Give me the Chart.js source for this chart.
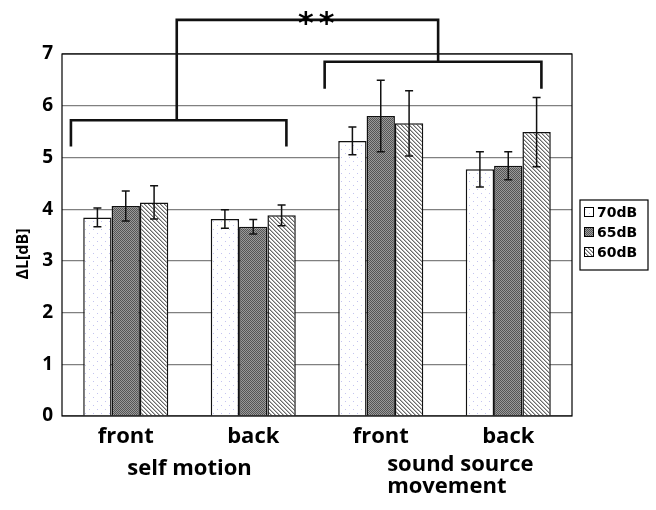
<!DOCTYPE html>
<html lang="en">
<head>
  <meta charset="UTF-8" />
  <title>Delta L by movement type</title>
  <script src="https://cdn.jsdelivr.net/npm/chart.js"></script>
  <style>
    html, body { margin: 0; padding: 0; background: #fff; }
    #wrap { width: 656px; height: 510px; }
  </style>
</head>
<body>
  <div id="wrap"><canvas id="chart" width="656" height="510"></canvas></div>

  <script>
    // data
    const categories = ['front', 'back', 'front', 'back'];
    const groupLabels = ['self motion', ['sound source', 'movement']];
    const seriesNames = ['70dB', '65dB', '60dB'];
    const values70 = [3.84, 3.81, 5.32, 4.77];
    const values65 = [4.06, 3.66, 5.80, 4.84];
    const values60 = [4.13, 3.88, 5.66, 5.49];
    const err70 = [0.18, 0.18, 0.27, 0.34];
    const err65 = [0.29, 0.14, 0.69, 0.27];
    const err60 = [0.32, 0.20, 0.63, 0.67];
    const yTicks = [0, 1, 2, 3, 4, 5, 6, 7];
    const significance = '**';

    const FONT = '"Open Sans", Lato, sans-serif';

    // fill patterns
    function makePattern(size, draw) {
      const c = document.createElement('canvas');
      c.width = size; c.height = size;
      const g = c.getContext('2d');
      draw(g);
      return g.createPattern(c, 'repeat');
    }
    const ctx0 = document.getElementById('chart').getContext('2d');
    const dots = makePattern(8, g => {
      g.fillStyle = '#fff'; g.fillRect(0, 0, 8, 8);
      g.fillStyle = '#c4c4f0';
      g.fillRect(1, 1, 1, 1);
      g.fillRect(5, 5, 1, 1);
    });
    const checker = makePattern(4, g => {
      g.fillStyle = '#9a9a9a'; g.fillRect(0, 0, 4, 4);
      g.fillStyle = '#555';
      g.fillRect(0, 0, 1, 1); g.fillRect(2, 0, 1, 1);
      g.fillRect(1, 1, 1, 1); g.fillRect(3, 1, 1, 1);
      g.fillRect(0, 2, 1, 1); g.fillRect(2, 2, 1, 1);
      g.fillRect(1, 3, 1, 1); g.fillRect(3, 3, 1, 1);
    });
    const stripes = makePattern(4, g => {
      g.fillStyle = '#fff'; g.fillRect(0, 0, 4, 4);
      g.fillStyle = '#6a6a6a';
      for (let i = 0; i < 4; i++) g.fillRect(i, i, 1, 1);
      g.fillStyle = '#b8b8b8';
      for (let i = 0; i < 4; i++) g.fillRect((i + 1) % 4, i, 1, 1);
    });
    const fills = [dots, checker, stripes];
    const errs = [err70, err65, err60];

    const errorBars = {
      id: 'errorBars',
      afterDatasetsDraw(chart) {
        const { ctx, scales: { y } } = chart;
        ctx.save();
        ctx.strokeStyle = '#111';
        ctx.lineWidth = 1.5;
        chart.data.datasets.forEach((ds, di) => {
          chart.getDatasetMeta(di).data.forEach((bar, i) => {
            const v = ds.data[i], e = errs[di][i];
            const top = y.getPixelForValue(v + e), bot = y.getPixelForValue(v - e);
            ctx.beginPath();
            ctx.moveTo(bar.x, top); ctx.lineTo(bar.x, bot);
            ctx.moveTo(bar.x - 4, top); ctx.lineTo(bar.x + 4, top);
            ctx.moveTo(bar.x - 4, bot); ctx.lineTo(bar.x + 4, bot);
            ctx.stroke();
          });
        });
        ctx.restore();
      }
    };

    const frame = {
      id: 'frame',
      afterDraw(chart) {
        const { ctx, chartArea: a, scales: { x, y } } = chart;
        ctx.save();
        // plot border
        ctx.strokeStyle = '#000';
        ctx.lineWidth = 1.2;
        ctx.strokeRect(a.left, a.top, a.right - a.left, a.bottom - a.top);

        // significance brackets, in data units
        const px = v => x.getPixelForValue(v);
        const py = v => y.getPixelForValue(v);
        ctx.strokeStyle = '#111';
        ctx.lineWidth = 2.6;
        ctx.lineJoin = 'miter';
        const br = [
          { x0: -0.43, x1: 1.26, top: 5.72, low: 5.21 },
          { x0: 1.56, x1: 3.26, top: 6.85, low: 6.33 }
        ];
        br.forEach(b => {
          ctx.beginPath();
          ctx.moveTo(px(b.x0), py(b.low));
          ctx.lineTo(px(b.x0), py(b.top));
          ctx.lineTo(px(b.x1), py(b.top));
          ctx.lineTo(px(b.x1), py(b.low));
          ctx.stroke();
        });
        ctx.beginPath();
        ctx.moveTo(px(0.40), py(5.72));
        ctx.lineTo(px(0.40), py(7.66));
        ctx.lineTo(px(2.45), py(7.66));
        ctx.lineTo(px(2.45), py(6.85));
        ctx.stroke();

        ctx.fillStyle = '#000';
        ctx.font = 'bold 30px "DejaVu Sans"';
        ctx.letterSpacing = '5px';
        ctx.textAlign = 'center';
        ctx.textBaseline = 'middle';
        ctx.fillText(significance, px(1.49) + 3, 25);
        ctx.letterSpacing = '0px';

        // group labels
        ctx.font = 'bold 22px ' + FONT;
        ctx.textBaseline = 'middle';
        ctx.fillText(groupLabels[0], px(0.5), 469);
        ctx.textAlign = 'left';
        groupLabels[1].forEach((t, i) => ctx.fillText(t, px(2.05), 465 + i * 22));

        // y axis title
        ctx.save();
        ctx.translate(23, 254);
        ctx.rotate(-Math.PI / 2);
        ctx.textAlign = 'center';
        ctx.font = 'bold 16px ' + FONT;
        ctx.fillText('ΔL[dB]', 0, 0);
        ctx.restore();

        // legend box
        const lx = a.right + 8, ly = 200;
        ctx.lineWidth = 1.2;
        ctx.strokeStyle = '#000';
        ctx.strokeRect(lx, ly, 68, 70);
        ctx.font = 'bold 14px "DejaVu Sans"';
        ctx.textAlign = 'left';
        seriesNames.forEach((n, i) => {
          const cy = ly + 12 + i * 20;
          ctx.fillStyle = fills[i];
          ctx.fillRect(lx + 4, cy - 5, 10, 10);
          ctx.lineWidth = 1;
          ctx.strokeRect(lx + 4.5, cy - 4.5, 9, 9);
          ctx.fillStyle = '#000';
          ctx.fillText(n, lx + 17, cy + 1);
        });
        ctx.restore();
      }
    };

    new Chart(ctx0, {
      type: 'bar',
      data: {
        labels: categories,
        datasets: [values70, values65, values60].map((vals, i) => ({
          label: seriesNames[i],
          data: vals,
          backgroundColor: fills[i],
          borderColor: '#111',
          borderWidth: 1.5,
          categoryPercentage: 0.667,
          barPercentage: 1.0
        }))
      },
      options: {
        responsive: false,
        animation: false,
        devicePixelRatio: 1,
        layout: { padding: { top: 54, right: 84, left: 0, bottom: 0 } },
        plugins: { legend: { display: false }, tooltip: { enabled: false } },
        scales: {
          x: {
            grid: { display: false },
            border: { display: false },
            ticks: { color: '#000', font: { family: FONT, size: 22, weight: 'bold' }, padding: 0 },
            afterFit: s => { s.height = 94; }
          },
          y: {
            min: 0,
            max: 7,
            afterBuildTicks: s => { s.ticks = yTicks.map(v => ({ value: v })); },
            grid: { color: '#808080', lineWidth: 1.2, drawTicks: false },
            border: { display: false },
            ticks: { color: '#000', font: { family: FONT, size: 19, weight: 'bold' }, padding: 9 },
            afterFit: s => { s.width = 62; }
          }
        }
      },
      plugins: [errorBars, frame]
    });
  </script>
</body>
</html>
